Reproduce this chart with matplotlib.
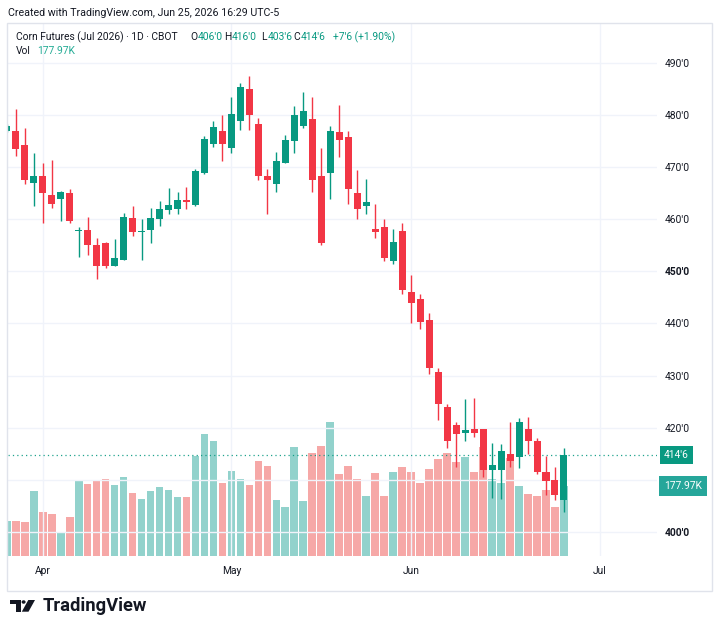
import matplotlib
matplotlib.use('Agg')
import matplotlib.pyplot as plt
import matplotlib.transforms as mtransforms
from matplotlib.patches import Rectangle, Circle, Polygon
import numpy as np
import pandas as pd

# ---------------- data ----------------
opens = [477.0, 477.0, 474.25, 467.0, 468.25, 464.75, 464.0, 465.0, 457.75, 458.0,
         455.0, 455.5, 451.0, 452.25, 460.25, 457.5, 458.0, 460.0, 461.75, 462.0,
         463.75, 462.75, 469.0, 474.5, 477.0, 473.75, 479.0, 485.0, 478.25, 468.25,
         466.75, 470.75, 475.0, 478.0, 479.25, 468.25, 469.0, 476.75, 475.75, 465.0,
         462.5, 458.25, 458.5, 452.0, 457.75, 446.0, 444.75, 440.75, 430.75, 424.0,
         420.5, 419.0, 419.75, 419.75, 411.75, 411.75, 415.0, 414.25, 419.75, 417.5,
         411.5, 410.0, 406.0]
highs = [478.25, 481.25, 477.5, 472.75, 470.75, 471.5, 465.5, 465.75, 458.5, 460.5,
         456.5, 455.75, 456.25, 461.25, 462.5, 460.0, 462.25, 463.5, 466.0, 465.25,
         466.25, 469.75, 476.0, 479.0, 480.0, 483.5, 486.25, 487.5, 479.5, 469.75,
         473.0, 476.25, 481.75, 484.5, 483.5, 473.75, 478.0, 482.0, 477.0, 469.5,
         467.75, 463.0, 460.0, 458.25, 459.25, 449.25, 445.75, 442.0, 431.5, 424.5,
         421.0, 425.5, 425.75, 419.75, 417.0, 416.75, 421.0, 421.75, 422.0, 418.0,
         414.5, 412.5, 416.0]
lows = [476.75, 472.25, 466.75, 462.5, 459.25, 462.25, 459.75, 459.25, 452.75, 453.25,
        448.5, 450.75, 451.0, 452.25, 456.75, 452.25, 455.5, 458.75, 461.0, 461.0,
        462.0, 462.5, 468.75, 474.0, 471.25, 472.75, 477.25, 477.25, 467.5, 461.0,
        465.25, 470.75, 472.75, 477.5, 465.25, 455.0, 464.0, 472.0, 463.0, 460.0,
        461.0, 456.5, 452.0, 451.5, 445.75, 440.0, 439.0, 430.25, 421.5, 416.0,
        412.5, 417.5, 418.25, 410.5, 406.5, 406.25, 412.5, 412.25, 415.0, 411.0,
        407.0, 406.0, 403.75]
closes = [478.0, 473.5, 467.5, 468.25, 465.0, 463.0, 465.25, 459.75, 458.0, 455.0,
          451.0, 451.0, 452.5, 460.5, 457.5, 457.75, 460.25, 462.0, 462.75, 463.75,
          463.25, 469.25, 475.5, 477.75, 474.5, 480.25, 485.5, 480.0, 468.25, 467.5,
          471.25, 475.25, 480.0, 480.75, 467.5, 455.5, 477.0, 475.25, 465.75, 462.0,
          463.25, 457.5, 452.5, 455.75, 446.5, 444.0, 440.25, 431.5, 424.5, 417.5,
          418.75, 419.5, 419.0, 411.75, 412.75, 415.5, 413.5, 421.0, 417.5, 411.5,
          409.75, 407.0, 414.75]
volumes_k = [89.8, 89.8, 85.7, 165.3, 111.9, 106.0, 60.3, 98.4, 192.5, 183.0,
             192.5, 195.8, 180.5, 200.1, 160.2, 144.9, 165.3, 176.2, 168.6, 149.2,
             150.8, 255.0, 310.2, 292.4, 186.4, 216.1, 195.8, 180.5, 241.5, 228.0,
             142.4, 125.3, 276.4, 139.8, 261.1, 279.7, 339.9, 209.3, 229.6, 196.5,
             151.8, 211.0, 151.8, 214.3, 226.3, 214.3, 186.4, 220.4, 245.9, 261.1,
             239.8, 250.9, 213.6, 277.9, 195.8, 184.8, 249.9, 178.0, 157.6, 153.3,
             167.0, 125.3, 177.97]
first_day = '2026-03-26'
axis_end_day = '2026-07-01'
holidays = ['2026-04-03', '2026-05-25', '2026-06-19']
month_numbers = [4, 5, 6, 7]
month_labels = ['Apr', 'May', 'Jun', 'Jul']
price_ticks = [400, 410, 420, 430, 440, 450, 460, 470, 480, 490]
price_tick_labels = ["400'0", "410'0", "420'0", "430'0", "440'0",
                     "450'0", "460'0", "470'0", "480'0", "490'0"]
bold_ticks = ["400'0", "450'0"]
title_text = "Corn Futures (Jul 2026) · 1D · CBOT"
created_text = "Created with TradingView.com, Jun 25, 2026 16:29 UTC-5"

# ---------------- styling ----------------
UP = '#089981'
DOWN = '#f23645'
VUP = '#26a69a80'
VDOWN = '#ef535080'
TXT = '#131722'
GRID = '#f0f3fa'
FRAME = '#e0e3eb'
plt.rcParams['font.family'] = ['Roboto', 'DejaVu Sans']

W, H = 720, 633
fig = plt.figure(figsize=(W / 100, H / 100), dpi=100)
fig.patch.set_facecolor('white')


def fx(x):
    return x / W


def fy(y):
    return 1 - y / H


def px2pt(p):
    return p * 0.72


def cbot(p):
    whole = int(np.floor(p + 1e-9))
    eighths = int(round((p - whole) * 8))
    return f"{whole}'{eighths}"


# trading days
days = pd.bdate_range(first_day, axis_end_day)
days = days[~days.isin(pd.to_datetime(holidays))]
n = len(closes)
xi = np.arange(n)
month_pos = [int(np.argmax(np.asarray(days.month) == m)) for m in month_numbers]

o = np.array(opens); h = np.array(highs); l = np.array(lows); c = np.array(closes)
v = np.array(volumes_k)
up = c >= o

# ---------------- axes ----------------
rect = [fx(8), fy(556), (657 - 8) / W, (556 - 23) / H]
ax_vol = fig.add_axes(rect)
ax = fig.add_axes(rect, sharex=ax_vol)
ax.patch.set_alpha(0)

ax_vol.bar(xi, v, width=0.86, color=[VUP if u else VDOWN for u in up],
           edgecolor='none', zorder=1)
ax_vol.set_ylim(0, 1355)
ax_vol.axis('off')

# candles
ax.vlines(xi, l, h, colors=[UP if u else DOWN for u in up], lw=1.0, zorder=3)
body_bottom = np.minimum(o, c)
body_h = np.maximum(np.abs(c - o), 0.2)
ax.bar(xi, body_h, bottom=body_bottom, width=0.78,
       color=[UP if u else DOWN for u in up], edgecolor='none', zorder=4)

ax.set_xlim(0.14, 72.35)
ax.set_ylim(395.32, 497.74)

ax.set_yticks(price_ticks, price_tick_labels)
ax.set_xticks(month_pos, month_labels)
ax.set_axisbelow(True)
ax.grid(True, color=GRID, lw=1)
for s in ax.spines.values():
    s.set_visible(False)
ax.yaxis.tick_right()
ax.tick_params(axis='y', length=0, pad=5.8, labelsize=px2pt(10.3), colors=TXT)
ax.tick_params(axis='x', length=0, pad=7.5, labelsize=px2pt(10.3), colors=TXT)
for lab in ax.get_yticklabels():
    if lab.get_text() in bold_ticks:
        lab.set_fontweight('bold')

# last price line
ax.axhline(c[-1], color=UP, lw=0.9, ls=(0, (1, 2.5)), zorder=2, alpha=0.9)

# axis labels (boxes)
blend_p = mtransforms.blended_transform_factory(ax.transAxes, ax.transData)
blend_v = mtransforms.blended_transform_factory(ax.transAxes, ax_vol.transData)
ax.annotate(cbot(c[-1]), xy=(1.0, c[-1]), xycoords=blend_p,
            xytext=(7, 0), textcoords='offset pixels', ha='left', va='center',
            color='white', fontsize=px2pt(10.3), annotation_clip=False, zorder=10,
            bbox=dict(boxstyle='square,pad=0.42', fc=UP, ec='none'))
ax.annotate(f"{v[-1]:.2f}K", xy=(1.0, v[-1]), xycoords=blend_v,
            xytext=(7, 0), textcoords='offset pixels', ha='left', va='center',
            color='white', fontsize=px2pt(10.3), annotation_clip=False, zorder=10,
            bbox=dict(boxstyle='square,pad=0.5', fc='#26a69a', ec='none'))

# frame
fig.add_artist(Rectangle((fx(7), fy(591)), (712 - 7) / W, (591 - 23) / H,
                         transform=fig.transFigure, fill=False, ec=FRAME, lw=1))

# ---------------- header texts ----------------
renderer = fig.canvas.get_renderer()


def fit(t, target_w):
    w = t.get_window_extent(renderer).width
    t.set_fontsize(t.get_fontsize() * target_w / w)
    return t.get_fontsize()


t0 = fig.text(fx(8), fy(13), created_text, ha='left', va='center',
              color=TXT, fontsize=8)
fit(t0, 271)

tt = fig.text(fx(15.7), fy(37), title_text, ha='left', va='center',
              color=TXT, fontsize=8)
fs = fit(tt, 162)

chg = c[-1] - c[-2]
pct = chg / c[-2] * 100
# (letter, value, x where the value starts)
ohlc = [('O', cbot(o[-1]), 198), ('H', cbot(h[-1]), 232),
        ('L', cbot(l[-1]), 267.5), ('C', cbot(c[-1]), 300.5)]
for letter, val, xs in ohlc:
    fig.text(fx(xs - 0.5), fy(37), letter, ha='right', va='center', color=TXT, fontsize=fs)
    tv = fig.text(fx(xs), fy(37), val, ha='left', va='center', color=UP, fontsize=fs)
fig.text(fx(333), fy(37), f"+{cbot(chg)} (+{pct:.2f}%)", ha='left', va='center',
         color=UP, fontsize=fs)
fig.text(fx(15.7), fy(51), 'Vol', ha='left', va='center', color=TXT, fontsize=fs)
fig.text(fx(36.7), fy(51), f"{v[-1]:.2f}K", ha='left', va='center',
         color='#22ab94', fontsize=fs)

# ---------------- logo ----------------
LOGO = '#131722'
fig.add_artist(Polygon([(fx(10), fy(600)), (fx(20.7), fy(600)), (fx(20.7), fy(611.7)),
                        (fx(15.5), fy(611.7)), (fx(15.5), fy(604)), (fx(10), fy(604))],
                       closed=True, transform=fig.transFigure, fc=LOGO, ec='none'))
fig.add_artist(Circle((fx(23.6), fy(602)), 2.0 / W, transform=fig.transFigure,
                      fc=LOGO, ec='none'))
fig.add_artist(Polygon([(fx(28.3), fy(600)), (fx(35), fy(600)), (fx(28.5), fy(611.7)),
                        (fx(21.8), fy(611.7))],
                       closed=True, transform=fig.transFigure, fc=LOGO, ec='none'))
tl = fig.text(fx(42.7), fy(606), 'TradingView', ha='left', va='center',
              color=LOGO, fontsize=12, fontweight='bold')
fit(tl, 104)

fig.savefig('out.png', dpi=100, facecolor='white')
